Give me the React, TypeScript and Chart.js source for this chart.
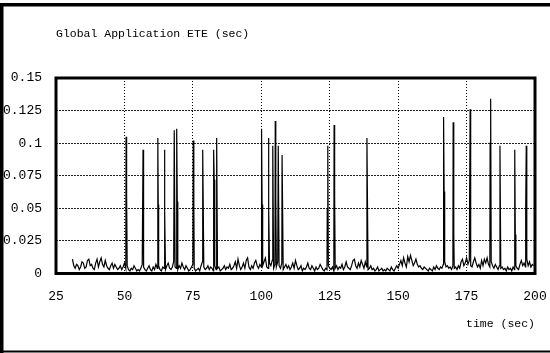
import React, { useEffect, useRef } from "react";
import { Chart, registerables } from "chart.js";

Chart.register(...registerables);

const titleText = "Global Application ETE (sec)";
const xAxisTitle = "time (sec)";

const xTicks = [25, 50, 75, 100, 125, 150, 175, 200];
const xTickLabels = ["25", "50", "75", "100", "125", "150", "175", "200"];
const yTicks = [0, 0.025, 0.05, 0.075, 0.1, 0.125, 0.15];
const yTickLabels = ["0", "0.025", "0.05", "0.075", "0.1", "0.125", "0.15"];

// background ETE samples, every 0.5 s starting at t = 31 s (one row = 10 s)
const noiseStartSec = 31;
const noiseStepSec = 0.5;
const noiseValues = [
  0.011, 0.006, 0.004, 0.007, 0.006, 0.003, 0.005, 0.009, 0.008, 0.004, 0.005, 0.010, 0.011, 0.006, 0.007, 0.004, 0.003, 0.008, 0.011, 0.005,
  0.009, 0.012, 0.007, 0.005, 0.010, 0.006, 0.004, 0.003, 0.006, 0.008, 0.004, 0.007, 0.005, 0.003, 0.004, 0.006, 0.003, 0.005, 0.008, 0.004,
  0.006, 0.003, 0.002, 0.004, 0.003, 0.006, 0.004, 0.002, 0.003, 0.002, 0.004, 0.007, 0.005, 0.003, 0.002, 0.004, 0.006, 0.003, 0.002, 0.005,
  0.003, 0.007, 0.004, 0.006, 0.003, 0.002, 0.005, 0.004, 0.003, 0.006, 0.008, 0.004, 0.003, 0.005, 0.009, 0.005, 0.004, 0.003, 0.006, 0.004,
  0.008, 0.005, 0.003, 0.006, 0.004, 0.002, 0.003, 0.005, 0.007, 0.004, 0.002, 0.003, 0.004, 0.002, 0.006, 0.009, 0.005, 0.003, 0.004, 0.006,
  0.003, 0.005, 0.004, 0.002, 0.006, 0.003, 0.004, 0.005, 0.002, 0.003, 0.004, 0.006, 0.003, 0.005, 0.004, 0.007, 0.003, 0.004, 0.006, 0.009,
  0.004, 0.011, 0.006, 0.003, 0.005, 0.008, 0.004, 0.010, 0.012, 0.005, 0.003, 0.006, 0.004, 0.008, 0.010, 0.006, 0.004, 0.007, 0.005, 0.006,
  0.009, 0.012, 0.005, 0.004, 0.008, 0.006, 0.010, 0.004, 0.007, 0.005, 0.009, 0.006, 0.004, 0.008, 0.003, 0.005, 0.007, 0.004, 0.006, 0.003,
  0.005, 0.008, 0.004, 0.010, 0.006, 0.003, 0.004, 0.006, 0.002, 0.004, 0.003, 0.005, 0.008, 0.004, 0.003, 0.006, 0.004, 0.002, 0.005, 0.003,
  0.004, 0.007, 0.005, 0.003, 0.002, 0.004, 0.003, 0.006, 0.004, 0.003, 0.005, 0.002, 0.004, 0.006, 0.003, 0.005, 0.004, 0.007, 0.003, 0.005,
  0.009, 0.005, 0.004, 0.003, 0.006, 0.010, 0.011, 0.006, 0.004, 0.008, 0.005, 0.010, 0.007, 0.004, 0.009, 0.005, 0.003, 0.004, 0.006, 0.003,
  0.004, 0.002, 0.003, 0.005, 0.002, 0.003, 0.004, 0.002, 0.003, 0.002, 0.004, 0.003, 0.002, 0.005, 0.003, 0.002, 0.004, 0.006, 0.004, 0.007,
  0.010, 0.006, 0.012, 0.008, 0.005, 0.013, 0.009, 0.014, 0.010, 0.006, 0.008, 0.011, 0.007, 0.005, 0.006, 0.004, 0.003, 0.005, 0.004, 0.003,
  0.002, 0.004, 0.003, 0.002, 0.005, 0.003, 0.006, 0.004, 0.003, 0.005, 0.004, 0.007, 0.009, 0.005, 0.006, 0.004, 0.005, 0.003, 0.006, 0.004,
  0.005, 0.003, 0.006, 0.004, 0.009, 0.011, 0.006, 0.008, 0.012, 0.007, 0.010, 0.006, 0.005, 0.009, 0.012, 0.008, 0.005, 0.007, 0.004, 0.010,
  0.006, 0.011, 0.008, 0.012, 0.007, 0.005, 0.009, 0.006, 0.004, 0.007, 0.005, 0.003, 0.006, 0.004, 0.005, 0.003, 0.004, 0.002, 0.005, 0.003,
  0.004, 0.002, 0.005, 0.003, 0.006, 0.004, 0.003, 0.007, 0.010, 0.006, 0.008, 0.005, 0.011, 0.006, 0.009, 0.005, 0.007, 0.006,
];

// ETE spikes (time in s, value in s)
const spikeTimes = [
  50.6, 50.8, 56.8, 62.2, 62.35, 64.6, 64.8, 68.2, 69.1, 69.3,
  75.15, 75.35, 78.6, 82.6, 82.8, 83.7, 100.1, 100.3, 102.6, 102.8,
  104.2, 105.1, 105.3, 106.2, 107.6, 124.1, 124.3, 126.6, 126.8, 138.6,
  138.8, 166.6, 166.8, 170.1, 170.25, 170.4, 176.3, 183.6, 183.8, 187.2,
  192.6, 192.8, 196.6, 196.8,
];
const spikeValues = [
  0.105, 0.060, 0.095, 0.104, 0.053, 0.095, 0.048, 0.110, 0.111, 0.055,
  0.102, 0.056, 0.095, 0.095, 0.072, 0.104, 0.111, 0.053, 0.104, 0.050,
  0.098, 0.117, 0.059, 0.098, 0.091, 0.049, 0.098, 0.114, 0.059, 0.104,
  0.053, 0.120, 0.063, 0.116, 0.087, 0.031, 0.126, 0.100, 0.134, 0.098,
  0.095, 0.030, 0.050, 0.098,
];

const monoFont = "'Liberation Mono', 'DejaVu Sans Mono', monospace";

const framePlugin = {
  id: "etFrame",
  afterDraw(chart: any) {
    const { ctx, chartArea: a } = chart;
    ctx.save();
    ctx.strokeStyle = "#000";
    ctx.lineWidth = 3;
    ctx.strokeRect(a.left, a.top, a.right - a.left, a.bottom - a.top);
    ctx.fillStyle = "#000";
    ctx.fillRect(0, 3, chart.width, 3.5);
    ctx.fillRect(0, 3, 3.5, chart.height - 3);
    ctx.fillRect(0, chart.height - 2.5, chart.width, 2);
    ctx.restore();
  },
};

export default function App() {
  const canvasRef = useRef<HTMLCanvasElement | null>(null);

  useEffect(() => {
    const canvas = canvasRef.current;
    if (!canvas) return;

    const points: { x: number; y: number }[] = [];
    noiseValues.forEach((v, i) => points.push({ x: noiseStartSec + i * noiseStepSec, y: v }));
    spikeTimes.forEach((t, i) => points.push({ x: t, y: spikeValues[i] }));
    points.sort((p, q) => p.x - q.x);

    const chart = new Chart(canvas, {
      type: "line",
      data: {
        datasets: [
          {
            label: titleText,
            data: points,
            borderColor: "#000",
            borderWidth: 1.2,
            pointRadius: 0,
            tension: 0,
            fill: false,
          },
        ],
      },
      plugins: [framePlugin],
      options: {
        responsive: false,
        animation: false,
        layout: { padding: 0 },
        plugins: {
          legend: { display: false },
          tooltip: { enabled: false },
          title: {
            display: true,
            text: titleText,
            align: "start",
            fullSize: false,
            color: "#000",
            font: { family: monoFont, size: 11.5, weight: "normal", lineHeight: 1.2 },
            padding: { top: 26.6, bottom: 37.6 },
          },
        },
        scales: {
          x: {
            type: "linear",
            min: 25,
            max: 200,
            afterBuildTicks: (s: any) => {
              s.ticks = xTicks.map((v) => ({ value: v }));
            },
            afterFit: (s: any) => {
              s.height = 79.5;
              s.paddingRight = 15;
              s.paddingLeft = 0;
            },
            ticks: {
              autoSkip: false,
              maxRotation: 0,
              padding: 15,
              color: "#000",
              font: { family: monoFont, size: 13 },
              callback: (v: any) => xTickLabels[xTicks.indexOf(Number(v))] ?? "",
            },
            grid: { color: "#000", lineWidth: 1, drawTicks: false },
            border: { display: false, dash: [1, 2] },
            title: {
              display: true,
              text: xAxisTitle,
              align: "end",
              color: "#000",
              font: { family: monoFont, size: 11.5, lineHeight: 1.2 },
              padding: { top: 0, bottom: 22 },
            },
          },
          y: {
            min: 0,
            max: 0.15,
            afterBuildTicks: (s: any) => {
              s.ticks = yTicks.map((v) => ({ value: v }));
            },
            afterFit: (s: any) => {
              s.width = 56;
            },
            ticks: {
              padding: 14,
              color: "#000",
              font: { family: monoFont, size: 13 },
              callback: (v: any) => {
                const i = yTicks.findIndex((t) => Math.abs(t - Number(v)) < 1e-9);
                return i >= 0 ? yTickLabels[i] : "";
              },
            },
            grid: { color: "#222", lineWidth: 1, drawTicks: false },
            border: { display: false, dash: [2, 1] },
          },
        },
      },
    } as any);

    return () => chart.destroy();
  }, []);

  return (
    <div style={{ position: "absolute", left: 0, top: 0, width: 550, height: 353, background: "#fff" }}>
      <canvas ref={canvasRef} width={550} height={353} style={{ display: "block" }} />
    </div>
  );
}
